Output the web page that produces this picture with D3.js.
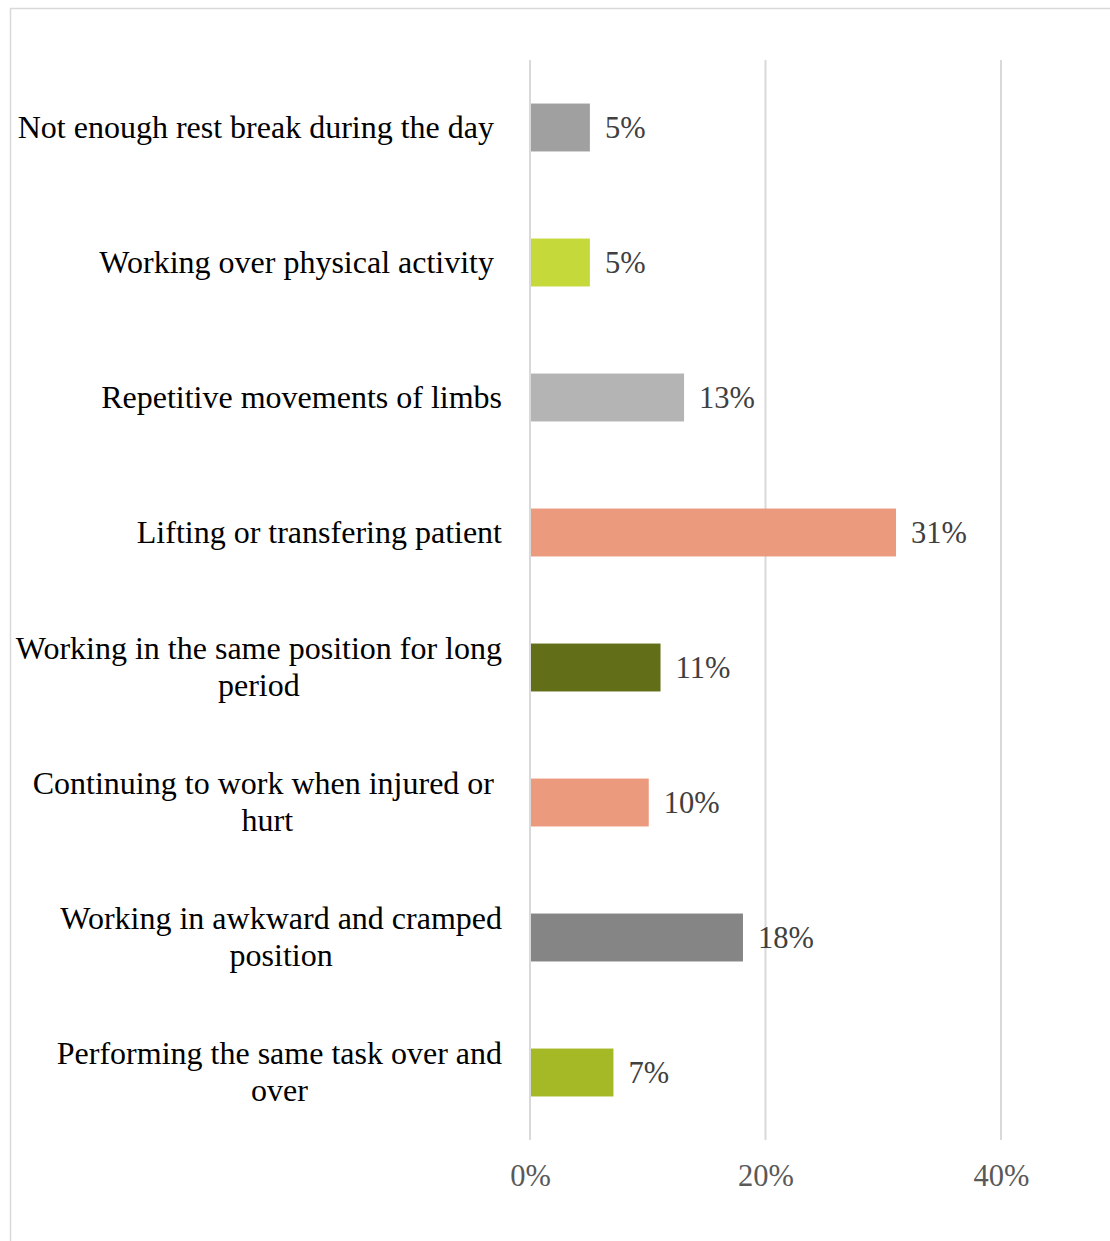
<!DOCTYPE html>
<html>
<head>
<meta charset="utf-8">
<script src="https://cdn.jsdelivr.net/npm/d3@7"></script>
<style>
  html, body { margin: 0; padding: 0; background: #fff; }
  svg { display: block; }
  text { font-family: "Liberation Serif", "Times New Roman", serif; white-space: pre; }
</style>
</head>
<body>
<svg id="chart" width="1110" height="1241"></svg>
<script>
// Risk factors (top to bottom) and their shares in percent
const categories = [
  ["Not enough rest break during the day "],
  ["Working over physical activity "],
  ["Repetitive movements of limbs"],
  ["Lifting or transfering patient"],
  ["Working in the same position for long", "period"],
  ["Continuing to work when injured or ", "hurt"],
  ["Working in awkward and cramped", "position"],
  ["Performing the same task over and", "over"]
];
const values = [5, 5, 13, 31, 11, 10, 18, 7];
const barColors = ["#a0a0a0", "#c5d93a", "#b4b4b4", "#eb9a7d", "#636e18", "#eb9a7d", "#858585", "#a5b826"];
const tickValues = [0, 20, 40];

const svg = d3.select("#chart");
const W = 1110, H = 1241;
const plot = { left: 530, right: 1001, top: 60, bottom: 1140 };

// chart frame
svg.append("rect")
  .attr("x", 10.5).attr("y", 8.5)
  .attr("width", W + 10).attr("height", H + 10)
  .attr("fill", "#fff").attr("stroke", "#d9d9d9").attr("stroke-width", 1.5);

const x = d3.scaleLinear().domain([0, 40]).range([plot.left, plot.right]);
const y = d3.scaleBand()
  .domain(d3.range(categories.length))
  .range([plot.top, plot.bottom])
  .paddingInner(0.645).paddingOuter(0.3225);

// vertical gridlines
svg.append("g")
  .selectAll("line")
  .data(tickValues)
  .join("line")
  .attr("x1", d => x(d)).attr("x2", d => x(d))
  .attr("y1", plot.top).attr("y2", plot.bottom)
  .attr("stroke", "#d9d9d9").attr("stroke-width", 2);

// x axis tick labels
const xAxis = d3.axisBottom(x).tickValues(tickValues).tickFormat(d => d + "%").tickSize(0).tickPadding(0);
const gx = svg.append("g").attr("transform", `translate(0,${plot.bottom + 46})`).call(xAxis);
gx.select(".domain").remove();
gx.selectAll("text")
  .attr("font-family", "Liberation Serif, Times New Roman, serif")
  .attr("font-size", 30.5).attr("fill", "#595959").attr("dy", "0");

// bars
svg.append("g")
  .selectAll("rect")
  .data(values)
  .join("rect")
  .attr("x", x(0) + 1)
  .attr("y", (d, i) => y(i))
  .attr("width", d => x(d) - x(0))
  .attr("height", y.bandwidth())
  .attr("fill", (d, i) => barColors[i]);

// value labels
svg.append("g")
  .selectAll("text")
  .data(values)
  .join("text")
  .attr("x", d => x(d) + 16)
  .attr("y", (d, i) => y(i) + y.bandwidth() / 2)
  .attr("dy", "0.35em")
  .attr("font-size", 30.5)
  .attr("fill", "#404040")
  .text(d => d + "%");

// category labels: multi-line blocks, each line centred within the block
const labelRight = 502;
const lineH = 37;
const lg = svg.append("g");
categories.forEach((lines, i) => {
  const cy = y(i) + y.bandwidth() / 2;
  const g = lg.append("g");
  const texts = lines.map((s, k) => g.append("text")
    .attr("font-size", 32)
    .attr("fill", "#000")
    .attr("text-anchor", "middle")
    .attr("dy", "0.32em")
    .attr("y", cy + (k - (lines.length - 1) / 2) * lineH)
    .text(s));
  const blockW = d3.max(texts, t => t.node().getComputedTextLength());
  texts.forEach(t => t.attr("x", labelRight - blockW / 2));
});
</script>
</body>
</html>
